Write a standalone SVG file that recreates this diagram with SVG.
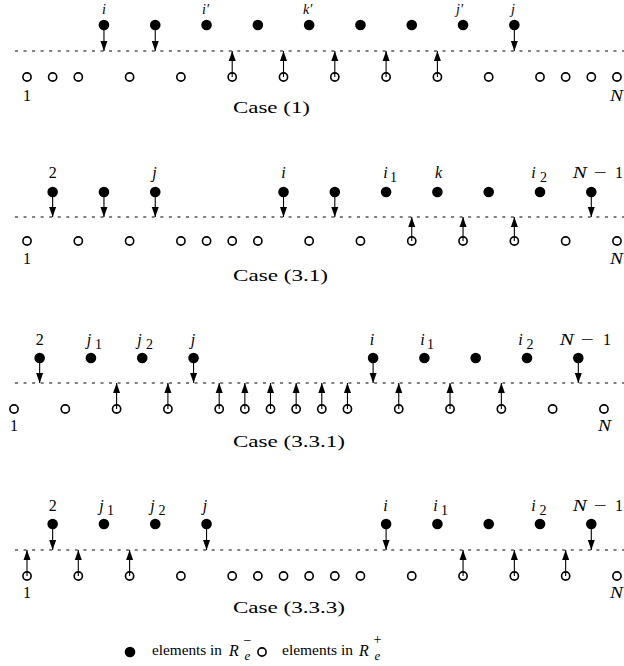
<svg xmlns="http://www.w3.org/2000/svg" xmlns:xlink="http://www.w3.org/1999/xlink" width="624" height="666" viewBox="0 0 624 666">
<style>
.fd{fill:#000}
.hd{fill:none;stroke:#000;stroke-width:1.6}
.base{stroke:#000;stroke-width:1;stroke-dasharray:3 5.55;fill:none}
.arr{stroke:#000;stroke-width:1.1;fill:none}
.t{font-family:"Liberation Serif","DejaVu Serif",serif;font-size:16px;fill:#000;text-anchor:middle}
.top{font-size:14px}
.sb{font-size:14px}
.s{text-anchor:start}
.it{font-style:italic}
.cs{font-family:"Liberation Serif","DejaVu Serif",serif;font-size:17px;fill:#000}
</style>
<defs>
<circle id="F" r="5.3" class="fd"/>
<circle id="H" r="4.1" class="hd"/>
<marker id="ah" markerUnits="userSpaceOnUse" markerWidth="10" markerHeight="7" refX="10" refY="3.5" orient="auto" overflow="visible"><path d="M0,0L10,3.5L0,7z" fill="#000"/></marker>
</defs>
<rect width="624" height="666" fill="#fff"/>

<g id="baselines">
<line class="base" x1="15" y1="51" x2="624" y2="51"/>
<line class="base" x1="15" y1="217" x2="624" y2="217"/>
<line class="base" x1="15" y1="383" x2="624" y2="383"/>
<line class="base" x1="15" y1="550" x2="624" y2="550"/>
</g>

<!-- Case (1) -->
<g id="case1">
<g id="c1-f3"><use xlink:href="#F" x="103.95" y="25"/><text class="t top it" x="104" y="13.5">i</text></g>
<g id="c1-f5"><use xlink:href="#F" x="155.25" y="25"/></g>
<g id="c1-f7"><use xlink:href="#F" x="206.55" y="25"/><text class="t top s it" x="202" y="13.5">i′</text></g>
<g id="c1-f9"><use xlink:href="#F" x="257.85" y="25"/></g>
<g id="c1-f11"><use xlink:href="#F" x="309.15" y="25"/><text class="t top s it" x="303" y="13.5">k′</text></g>
<g id="c1-f13"><use xlink:href="#F" x="360.45" y="25"/></g>
<g id="c1-f15"><use xlink:href="#F" x="411.75" y="25"/></g>
<g id="c1-f17"><use xlink:href="#F" x="463.05" y="25"/><text class="t top s it" x="456" y="13.5">j′</text></g>
<g id="c1-f19"><use xlink:href="#F" x="514.35" y="25"/><text class="t top it" x="513" y="13.5">j</text></g>
<g id="c1-h0"><use xlink:href="#H" x="27" y="77"/><text class="t" x="27" y="101">1</text></g>
<g id="c1-h1"><use xlink:href="#H" x="52.65" y="77"/></g>
<g id="c1-h2"><use xlink:href="#H" x="78.3" y="77"/></g>
<g id="c1-h4"><use xlink:href="#H" x="129.6" y="77"/></g>
<g id="c1-h6"><use xlink:href="#H" x="180.9" y="77"/></g>
<g id="c1-h8"><use xlink:href="#H" x="232.2" y="77"/></g>
<g id="c1-h10"><use xlink:href="#H" x="283.5" y="77"/></g>
<g id="c1-h12"><use xlink:href="#H" x="334.8" y="77"/></g>
<g id="c1-h14"><use xlink:href="#H" x="386.1" y="77"/></g>
<g id="c1-h16"><use xlink:href="#H" x="437.4" y="77"/></g>
<g id="c1-h18"><use xlink:href="#H" x="488.7" y="77"/></g>
<g id="c1-h20"><use xlink:href="#H" x="540" y="77"/></g>
<g id="c1-h21"><use xlink:href="#H" x="565.65" y="77"/></g>
<g id="c1-h22"><use xlink:href="#H" x="591.3" y="77"/></g>
<g id="c1-h23"><use xlink:href="#H" x="616.95" y="77"/><text class="t it" x="616.5" y="101" textLength="13" lengthAdjust="spacingAndGlyphs">N</text></g>
<text id="c1-title" class="cs" x="233" y="113" textLength="77" lengthAdjust="spacingAndGlyphs">Case (1)</text>
</g>

<!-- Case (3.1) -->
<g id="case31">
<g id="c2-f1"><use xlink:href="#F" x="52.65" y="192"/><text class="t" x="52.65" y="178">2</text></g>
<g id="c2-f3"><use xlink:href="#F" x="103.95" y="192"/></g>
<g id="c2-f5"><use xlink:href="#F" x="155.25" y="192"/><text class="t it" x="154.5" y="178">j</text></g>
<g id="c2-f10"><use xlink:href="#F" x="283.5" y="192"/><text class="t it" x="283.5" y="178">i</text></g>
<g id="c2-f12"><use xlink:href="#F" x="334.8" y="192"/></g>
<g id="c2-f14"><use xlink:href="#F" x="386.1" y="192"/><text class="t it" x="385.5" y="178">i</text><text class="t sb" x="393.5" y="182">1</text></g>
<g id="c2-f16"><use xlink:href="#F" x="437.4" y="192"/><text class="t it" x="438.5" y="178">k</text></g>
<g id="c2-f18"><use xlink:href="#F" x="488.7" y="192"/></g>
<g id="c2-f20"><use xlink:href="#F" x="540" y="192"/><text class="t it" x="533.5" y="178">i</text><text class="t sb" x="543.5" y="182">2</text></g>
<g id="c2-f22"><use xlink:href="#F" x="591.3" y="192"/><text class="t it" x="579.8" y="178" textLength="14" lengthAdjust="spacingAndGlyphs">N</text><text class="t" x="600.3" y="178" textLength="13" lengthAdjust="spacingAndGlyphs">−</text><text class="t" x="619" y="178">1</text></g>
<g id="c2-h0"><use xlink:href="#H" x="27" y="241"/><text class="t" x="27" y="264">1</text></g>
<g id="c2-h2"><use xlink:href="#H" x="78.3" y="241"/></g>
<g id="c2-h4"><use xlink:href="#H" x="129.6" y="241"/></g>
<g id="c2-h6"><use xlink:href="#H" x="180.9" y="241"/></g>
<g id="c2-h7"><use xlink:href="#H" x="206.55" y="241"/></g>
<g id="c2-h8"><use xlink:href="#H" x="232.2" y="241"/></g>
<g id="c2-h9"><use xlink:href="#H" x="257.85" y="241"/></g>
<g id="c2-h11"><use xlink:href="#H" x="309.15" y="241"/></g>
<g id="c2-h13"><use xlink:href="#H" x="360.45" y="241"/></g>
<g id="c2-h15"><use xlink:href="#H" x="411.75" y="241"/></g>
<g id="c2-h17"><use xlink:href="#H" x="463.05" y="241"/></g>
<g id="c2-h19"><use xlink:href="#H" x="514.35" y="241"/></g>
<g id="c2-h21"><use xlink:href="#H" x="565.65" y="241"/></g>
<g id="c2-h23"><use xlink:href="#H" x="616.95" y="241"/><text class="t it" x="616.5" y="264" textLength="13" lengthAdjust="spacingAndGlyphs">N</text></g>
<text id="c2-title" class="cs" x="233" y="281" textLength="95" lengthAdjust="spacingAndGlyphs">Case (3.1)</text>
</g>

<!-- Case (3.3.1) -->
<g id="case331">
<g id="c3-f1"><use xlink:href="#F" x="39.65" y="358"/><text class="t" x="39.65" y="345">2</text></g>
<g id="c3-f3"><use xlink:href="#F" x="90.95" y="358"/><text class="t it" x="89" y="345">j</text><text class="t sb" x="98.5" y="349">1</text></g>
<g id="c3-f5"><use xlink:href="#F" x="142.25" y="358"/><text class="t it" x="139.5" y="345">j</text><text class="t sb" x="149.5" y="349">2</text></g>
<g id="c3-f7"><use xlink:href="#F" x="193.55" y="358"/><text class="t it" x="193" y="345">j</text></g>
<g id="c3-f14"><use xlink:href="#F" x="373.1" y="358"/><text class="t it" x="372" y="345">i</text></g>
<g id="c3-f16"><use xlink:href="#F" x="424.4" y="358"/><text class="t it" x="422.5" y="345">i</text><text class="t sb" x="430.5" y="349">1</text></g>
<g id="c3-f18"><use xlink:href="#F" x="475.7" y="358"/></g>
<g id="c3-f20"><use xlink:href="#F" x="527" y="358"/><text class="t it" x="520.5" y="345">i</text><text class="t sb" x="530" y="349">2</text></g>
<g id="c3-f22"><use xlink:href="#F" x="578.3" y="358"/><text class="t it" x="566.8" y="345" textLength="14" lengthAdjust="spacingAndGlyphs">N</text><text class="t" x="587.3" y="345" textLength="13" lengthAdjust="spacingAndGlyphs">−</text><text class="t" x="607" y="345">1</text></g>
<g id="c3-h0"><use xlink:href="#H" x="14" y="409"/><text class="t" x="14" y="431">1</text></g>
<g id="c3-h2"><use xlink:href="#H" x="65.3" y="409"/></g>
<g id="c3-h4"><use xlink:href="#H" x="116.6" y="409"/></g>
<g id="c3-h6"><use xlink:href="#H" x="167.9" y="409"/></g>
<g id="c3-h8"><use xlink:href="#H" x="219.2" y="409"/></g>
<g id="c3-h9"><use xlink:href="#H" x="244.85" y="409"/></g>
<g id="c3-h10"><use xlink:href="#H" x="270.5" y="409"/></g>
<g id="c3-h11"><use xlink:href="#H" x="296.15" y="409"/></g>
<g id="c3-h12"><use xlink:href="#H" x="321.8" y="409"/></g>
<g id="c3-h13"><use xlink:href="#H" x="347.45" y="409"/></g>
<g id="c3-h15"><use xlink:href="#H" x="398.75" y="409"/></g>
<g id="c3-h17"><use xlink:href="#H" x="450.05" y="409"/></g>
<g id="c3-h19"><use xlink:href="#H" x="501.35" y="409"/></g>
<g id="c3-h21"><use xlink:href="#H" x="552.65" y="409"/></g>
<g id="c3-h23"><use xlink:href="#H" x="603.95" y="409"/><text class="t it" x="604.5" y="431" textLength="13" lengthAdjust="spacingAndGlyphs">N</text></g>
<text id="c3-title" class="cs" x="233" y="447" textLength="112" lengthAdjust="spacingAndGlyphs">Case (3.3.1)</text>
</g>

<!-- Case (3.3.3) -->
<g id="case333">
<g id="c4-f1"><use xlink:href="#F" x="52.65" y="524"/><text class="t" x="52.65" y="511">2</text></g>
<g id="c4-f3"><use xlink:href="#F" x="103.95" y="524"/><text class="t it" x="101.5" y="511">j</text><text class="t sb" x="110.5" y="515">1</text></g>
<g id="c4-f5"><use xlink:href="#F" x="155.25" y="524"/><text class="t it" x="152.5" y="511">j</text><text class="t sb" x="162" y="515">2</text></g>
<g id="c4-f7"><use xlink:href="#F" x="206.55" y="524"/><text class="t it" x="205" y="511">j</text></g>
<g id="c4-f14"><use xlink:href="#F" x="386.1" y="524"/><text class="t it" x="385.5" y="511">i</text></g>
<g id="c4-f16"><use xlink:href="#F" x="437.4" y="524"/><text class="t it" x="435.5" y="511">i</text><text class="t sb" x="444.5" y="515">1</text></g>
<g id="c4-f18"><use xlink:href="#F" x="488.7" y="524"/></g>
<g id="c4-f20"><use xlink:href="#F" x="540" y="524"/><text class="t it" x="533.5" y="511">i</text><text class="t sb" x="543" y="515">2</text></g>
<g id="c4-f22"><use xlink:href="#F" x="591.3" y="524"/><text class="t it" x="579.8" y="511" textLength="14" lengthAdjust="spacingAndGlyphs">N</text><text class="t" x="600.3" y="511" textLength="13" lengthAdjust="spacingAndGlyphs">−</text><text class="t" x="619" y="511">1</text></g>
<g id="c4-h0"><use xlink:href="#H" x="27" y="576"/><text class="t" x="27" y="598">1</text></g>
<g id="c4-h2"><use xlink:href="#H" x="78.3" y="576"/></g>
<g id="c4-h4"><use xlink:href="#H" x="129.6" y="576"/></g>
<g id="c4-h6"><use xlink:href="#H" x="180.9" y="576"/></g>
<g id="c4-h8"><use xlink:href="#H" x="232.2" y="576"/></g>
<g id="c4-h9"><use xlink:href="#H" x="257.85" y="576"/></g>
<g id="c4-h10"><use xlink:href="#H" x="283.5" y="576"/></g>
<g id="c4-h11"><use xlink:href="#H" x="309.15" y="576"/></g>
<g id="c4-h12"><use xlink:href="#H" x="334.8" y="576"/></g>
<g id="c4-h13"><use xlink:href="#H" x="360.45" y="576"/></g>
<g id="c4-h15"><use xlink:href="#H" x="411.75" y="576"/></g>
<g id="c4-h17"><use xlink:href="#H" x="463.05" y="576"/></g>
<g id="c4-h19"><use xlink:href="#H" x="514.35" y="576"/></g>
<g id="c4-h21"><use xlink:href="#H" x="565.65" y="576"/></g>
<g id="c4-h23"><use xlink:href="#H" x="616.95" y="576"/><text class="t it" x="616.5" y="598" textLength="13" lengthAdjust="spacingAndGlyphs">N</text></g>
<text id="c4-title" class="cs" x="233" y="613" textLength="112" lengthAdjust="spacingAndGlyphs">Case (3.3.3)</text>
</g>

<g id="connectors">
<!-- Case (1) -->
<line class="arr" x1="103.95" y1="25" x2="103.95" y2="51" marker-end="url(#ah)"/>
<line class="arr" x1="155.25" y1="25" x2="155.25" y2="51" marker-end="url(#ah)"/>
<line class="arr" x1="514.35" y1="25" x2="514.35" y2="51" marker-end="url(#ah)"/>
<line class="arr" x1="232.2" y1="77" x2="232.2" y2="51" marker-end="url(#ah)"/>
<line class="arr" x1="283.5" y1="77" x2="283.5" y2="51" marker-end="url(#ah)"/>
<line class="arr" x1="334.8" y1="77" x2="334.8" y2="51" marker-end="url(#ah)"/>
<line class="arr" x1="386.1" y1="77" x2="386.1" y2="51" marker-end="url(#ah)"/>
<line class="arr" x1="437.4" y1="77" x2="437.4" y2="51" marker-end="url(#ah)"/>
<!-- Case (3.1) -->
<line class="arr" x1="52.65" y1="192" x2="52.65" y2="217" marker-end="url(#ah)"/>
<line class="arr" x1="103.95" y1="192" x2="103.95" y2="217" marker-end="url(#ah)"/>
<line class="arr" x1="155.25" y1="192" x2="155.25" y2="217" marker-end="url(#ah)"/>
<line class="arr" x1="283.5" y1="192" x2="283.5" y2="217" marker-end="url(#ah)"/>
<line class="arr" x1="334.8" y1="192" x2="334.8" y2="217" marker-end="url(#ah)"/>
<line class="arr" x1="591.3" y1="192" x2="591.3" y2="217" marker-end="url(#ah)"/>
<line class="arr" x1="411.75" y1="241" x2="411.75" y2="217" marker-end="url(#ah)"/>
<line class="arr" x1="463.05" y1="241" x2="463.05" y2="217" marker-end="url(#ah)"/>
<line class="arr" x1="514.35" y1="241" x2="514.35" y2="217" marker-end="url(#ah)"/>
<!-- Case (3.3.1) -->
<line class="arr" x1="39.65" y1="358" x2="39.65" y2="383" marker-end="url(#ah)"/>
<line class="arr" x1="193.55" y1="358" x2="193.55" y2="383" marker-end="url(#ah)"/>
<line class="arr" x1="373.1" y1="358" x2="373.1" y2="383" marker-end="url(#ah)"/>
<line class="arr" x1="578.3" y1="358" x2="578.3" y2="383" marker-end="url(#ah)"/>
<line class="arr" x1="116.6" y1="409" x2="116.6" y2="383" marker-end="url(#ah)"/>
<line class="arr" x1="167.9" y1="409" x2="167.9" y2="383" marker-end="url(#ah)"/>
<line class="arr" x1="219.2" y1="409" x2="219.2" y2="383" marker-end="url(#ah)"/>
<line class="arr" x1="244.85" y1="409" x2="244.85" y2="383" marker-end="url(#ah)"/>
<line class="arr" x1="270.5" y1="409" x2="270.5" y2="383" marker-end="url(#ah)"/>
<line class="arr" x1="296.15" y1="409" x2="296.15" y2="383" marker-end="url(#ah)"/>
<line class="arr" x1="321.8" y1="409" x2="321.8" y2="383" marker-end="url(#ah)"/>
<line class="arr" x1="347.45" y1="409" x2="347.45" y2="383" marker-end="url(#ah)"/>
<line class="arr" x1="398.75" y1="409" x2="398.75" y2="383" marker-end="url(#ah)"/>
<line class="arr" x1="450.05" y1="409" x2="450.05" y2="383" marker-end="url(#ah)"/>
<line class="arr" x1="501.35" y1="409" x2="501.35" y2="383" marker-end="url(#ah)"/>
<!-- Case (3.3.3) -->
<line class="arr" x1="52.65" y1="524" x2="52.65" y2="550" marker-end="url(#ah)"/>
<line class="arr" x1="206.55" y1="524" x2="206.55" y2="550" marker-end="url(#ah)"/>
<line class="arr" x1="386.1" y1="524" x2="386.1" y2="550" marker-end="url(#ah)"/>
<line class="arr" x1="591.3" y1="524" x2="591.3" y2="550" marker-end="url(#ah)"/>
<line class="arr" x1="27" y1="576" x2="27" y2="550" marker-end="url(#ah)"/>
<line class="arr" x1="78.3" y1="576" x2="78.3" y2="550" marker-end="url(#ah)"/>
<line class="arr" x1="129.6" y1="576" x2="129.6" y2="550" marker-end="url(#ah)"/>
<line class="arr" x1="463.05" y1="576" x2="463.05" y2="550" marker-end="url(#ah)"/>
<line class="arr" x1="514.35" y1="576" x2="514.35" y2="550" marker-end="url(#ah)"/>
<line class="arr" x1="565.65" y1="576" x2="565.65" y2="550" marker-end="url(#ah)"/>
</g>

<g id="legend">
<g id="legend-minus">
<use xlink:href="#F" x="130" y="652"/>
<text class="t s" x="152" y="655" style="font-size:15px" textLength="70" lengthAdjust="spacingAndGlyphs">elements in</text>
<text class="t it" x="234" y="656" style="font-size:16px">R</text>
<text class="t it" x="247.5" y="660" style="font-size:13px">e</text>
<text class="t" x="247.5" y="645" style="font-size:14px">−</text>
</g>
<g id="legend-plus">
<use xlink:href="#H" x="262" y="652"/>
<text class="t s" x="282" y="655" style="font-size:15px" textLength="71" lengthAdjust="spacingAndGlyphs">elements in</text>
<text class="t it" x="364" y="656" style="font-size:16px">R</text>
<text class="t it" x="377.5" y="660" style="font-size:13px">e</text>
<text class="t" x="377.5" y="644" style="font-size:14px">+</text>
</g>
</g>
</svg>
